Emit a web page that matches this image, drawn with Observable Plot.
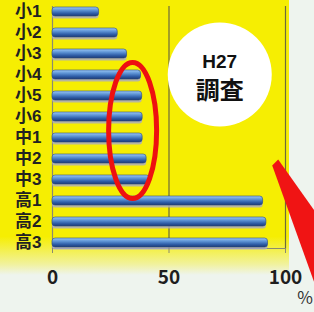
<!DOCTYPE html>
<html><head><meta charset="utf-8">
<script src="https://cdn.jsdelivr.net/npm/d3@7"></script>
<script src="https://cdn.jsdelivr.net/npm/@observablehq/plot@0.6"></script>
<style>
body{margin:0;background:#eef4ee;font-family:"Noto Sans CJK JP","Noto Sans",sans-serif;}
#wrap{position:relative;width:314px;height:312px;overflow:hidden;}
#bg{position:absolute;left:0;top:0;width:289px;height:275px;
background:linear-gradient(to bottom,#f6ee02 0%,#f6ee02 86%,rgba(246,238,2,0.35) 96%,rgba(246,238,2,0) 100%);}
#wrap svg{position:absolute;left:0;top:0;}
</style></head>
<body><div id="wrap"><div id="bg"></div></div>
<script>
const categories = ["小1","小2","小3","小4","小5","小6","中1","中2","中3","高1","高2","高3"];
const values = [20, 28, 32, 38, 38.5, 38.7, 38.7, 40.4, 41.8, 90.4, 91.8, 92.5];
const xTicks = [0, 50, 100];
const badgeLines = ["H27", "調査"];
const unitLabel = "%";

const data = categories.map((c, i) => ({cat: c, v: values[i]}));
const font = '"Noto Sans CJK JP","Noto Sans",sans-serif';
const labelFont = '"Liberation Sans","Noto Sans CJK JP",sans-serif';

const plot = Plot.plot({
  width: 314, height: 312,
  marginLeft: 52, marginRight: 29, marginTop: 6, marginBottom: 64,
  style: {background: "transparent", fontFamily: font, overflow: "visible"},
  x: {domain: [0, 100], label: null},
  y: {domain: categories, paddingInner: 0.58, paddingOuter: 0.0, align: 0.5, label: null},
  marks: [
    Plot.ruleX(xTicks.slice(1), {stroke: "#6d6a3c", strokeWidth: 1.2}),
    Plot.ruleX([0], {stroke: "#8a8a70", strokeWidth: 1.2}),
    Plot.frame({anchor: "bottom", stroke: "#8a8a70", strokeWidth: 1.2}),
    Plot.barX(data, {x: "v", y: "cat", fill: "#a8a8c8", dy: 2.5, rx: 3, opacity: 0.8}),
    Plot.barX(data, {x: "v", y: "cat", fill: "url(#barGrad)", stroke: "#2c4a82", strokeWidth: 0.6, rx: 3}),
    Plot.axisX({ticks: xTicks, tickSize: 5, tickPadding: 17, stroke: "#8a8a70", fontSize: 19, fontWeight: "bold", fill: "#1e1e1e", label: null}),
    Plot.axisY({tickSize: 0, tickPadding: 11, fontSize: 17, fontWeight: "bold", fill: "#222", label: null, fontFamily: labelFont})
  ]
});

const svg = d3.select(plot);
const defs = svg.insert("defs", ":first-child");
const g = defs.append("linearGradient").attr("id", "barGrad").attr("x1", 0).attr("y1", 0).attr("x2", 0).attr("y2", 1);
[["0%", "#9cc8f4"], ["35%", "#5f95d6"], ["70%", "#2f5ea8"], ["100%", "#1d3b74"]]
  .forEach(([o, c]) => g.append("stop").attr("offset", o).attr("stop-color", c));

const xs = plot.scale("x"), ys = plot.scale("y");
const xp = v => xs.apply(v);
const yc = c => ys.apply(c) + ys.bandwidth / 2;

// red ellipse highlighting 小4–中3
const e1 = yc("小4") - 12, e2 = yc("中3") + 19;
svg.append("ellipse")
  .attr("cx", xp(34.6)).attr("cy", (e1 + e2) / 2)
  .attr("rx", 24).attr("ry", (e2 - e1) / 2)
  .attr("fill", "none").attr("stroke", "#ee1010").attr("stroke-width", 5);

// white badge
const bx = xp(72), by = yc("小4");
svg.append("circle").attr("cx", bx).attr("cy", by).attr("r", 52).attr("fill", "#ffffff");
svg.append("text").attr("x", bx).attr("y", by - 7).attr("text-anchor", "middle")
  .attr("font-size", 19).attr("font-weight", "bold").attr("fill", "#111").attr("font-family", labelFont).text(badgeLines[0]);
svg.append("text").attr("x", bx).attr("y", by + 24).attr("text-anchor", "middle")
  .attr("font-size", 24).attr("font-weight", "bold").attr("fill", "#111").attr("font-family", font).text(badgeLines[1]);

// red arrow wedge at right
const tx = xp(95.8), ty = yc("中2") + 5;
svg.append("polygon")
  .attr("points", `${tx-3},${ty+2} ${tx+3},${ty-4} 320,${ty+55} 320,${ty+135}`)
  .attr("fill", "#f01414");

// unit label
svg.append("text").attr("x", 305).attr("y", 304).attr("text-anchor", "middle")
  .attr("font-size", 17).attr("fill", "#333").attr("font-family", font).text(unitLabel);

document.getElementById("wrap").appendChild(plot);
</script></body></html>
